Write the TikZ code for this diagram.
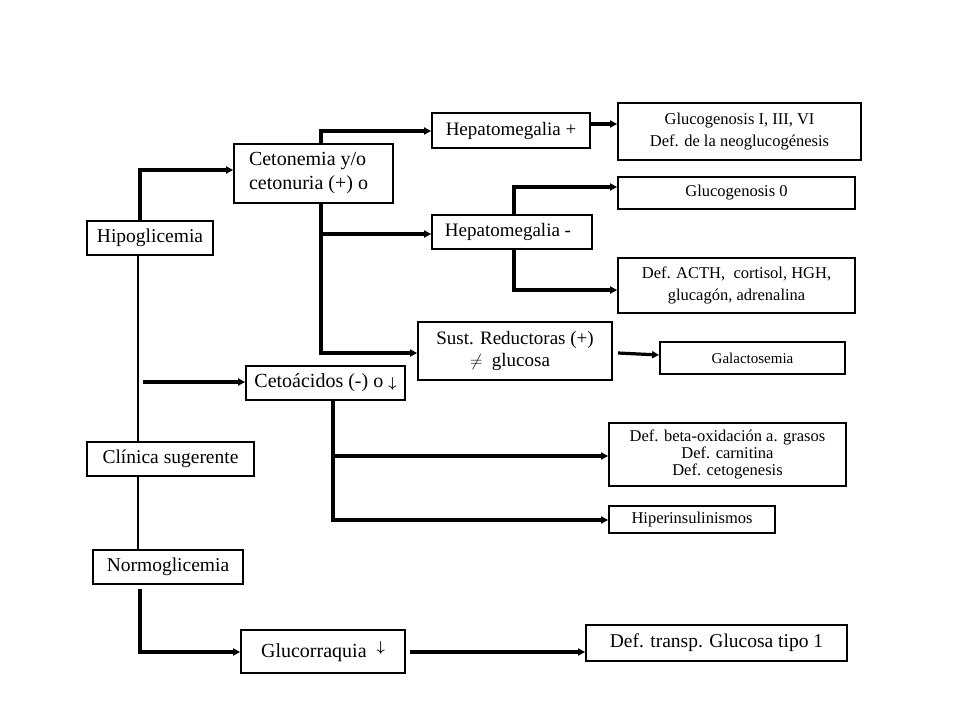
\documentclass[tikz,border=0pt]{standalone}
\usepackage{amsmath}
\usepackage{fontspec}
\setmainfont{Liberation Serif}
\usetikzlibrary{arrows.meta}
\begin{document}
\begin{tikzpicture}[x=1pt,y=-1pt,
		box/.style={draw, line width=1.8pt, inner sep=0pt, align=center},
		link/.style={line width=3.2pt, -{Triangle[length=7pt,width=7pt]}},
		thin/.style={line width=1.6pt}]
		\useasboundingbox (0,0) rectangle (960,720);
		
		% Boxes, left column
		\node[box, minimum width=126, minimum height=34, font=\fontsize{19.5}{22}\selectfont] (hipo) at (150,238) {Hipoglicemia};
		\node[box, minimum width=167, minimum height=34, font=\fontsize{19.5}{22}\selectfont] (clin) at (170.5,459) {Clínica sugerente};
		\node[box, minimum width=150, minimum height=34, font=\fontsize{19.5}{22}\selectfont] (normo) at (168,567) {Normoglicemia};
		
		% Boxes, middle column
		\node[box, minimum width=159, minimum height=59, align=left, font=\fontsize{20}{24}\selectfont] (ceto) at (313.5,173.5) {Cetonemia y/o\\cetonuria (+) o\hspace*{10pt}};
		\node[box, minimum width=159, minimum height=34, font=\fontsize{20}{22}\selectfont] (acid) at (325.5,383) {Cetoácidos (-) o {\Large$\boldsymbol\downarrow$}};
		\node[box, minimum width=164, minimum height=43, font=\fontsize{20}{22}\selectfont] (gluco) at (323,651.5) {\raisebox{-6pt}{Glucorraquia} \ {\Large$\boldsymbol\downarrow$}};
		\node[box, minimum width=158, minimum height=35, font=\fontsize{19}{22}\selectfont] (hepp) at (511,130.5) {Hepatomegalia +};
		\node[box, minimum width=160, minimum height=34, font=\fontsize{19}{22}\selectfont] (hepm) at (512,232) {Hepatomegalia -\hspace*{8pt}};
		\node[box, minimum width=194, minimum height=58, font=\fontsize{19}{24}\selectfont] (sust) at (515,351) {Sust. Reductoras (+)\\[-2pt]$\neq$\ \ glucosa\hspace*{10pt}};
		
		% Boxes, right column
		\node[box, minimum width=243, minimum height=57, font=\fontsize{16.5}{22}\selectfont] (gI) at (739.5,131.5) {Glucogenosis I, III, VI\\Def. de la neoglucogénesis};
		\node[box, minimum width=237, minimum height=32, font=\fontsize{16.5}{18}\selectfont] (g0) at (736.5,193) {Glucogenosis 0};
		\node[box, minimum width=237, minimum height=55, font=\fontsize{16.5}{22}\selectfont] (acth) at (736.5,285.5) {Def. ACTH,\ \ cortisol, HGH,\\glucagón, adrenalina};
		\node[box, minimum width=185, minimum height=32, font=\fontsize{15}{17}\selectfont] (gal) at (752.5,358) {Galactosemia};
		\node[box, minimum width=237, minimum height=63, font=\fontsize{16.5}{17}\selectfont] (beta) at (727.5,454.5) {Def. beta-oxidación a. grasos\\Def. carnitina\\Def. cetogenesis};
		\node[box, minimum width=166, minimum height=27, font=\fontsize{16.5}{18}\selectfont] (hiper) at (692,519.5) {Hiperinsulinismos};
		\node[box, minimum width=261, minimum height=36, font=\fontsize{19.5}{22}\selectfont] (transp) at (716.5,643) {Def. transp. Glucosa tipo 1};
		
		% Trunk
		\draw[thin] (hipo.south -| 138,0) -- (clin.north -| 138,0);
		\draw[thin] (clin.south -| 138,0) -- (normo.north -| 138,0);
		
		% Arrows
		\draw[link] (hipo.north -| 140,0) -- (140,170) -- (ceto.west |- 0,170);
		\draw[link] (143,382) -- (acid.west |- 0,382);
		\draw[link] (ceto.north -| 321,0) -- (321,131) -- (hepp.west |- 0,131);
		\draw[link] (ceto.south -| 321,0) -- (321,353) -- (sust.west |- 0,353);
		\draw[link] (321,234) -- (hepm.west |- 0,234);
		\draw[link] (hepp.east |- 0,124) -- (gI.west |- 0,124);
		\draw[link] (hepm.north -| 514,0) -- (514,187) -- (g0.west |- 0,187);
		\draw[link] (hepm.south -| 514,0) -- (514,290) -- (acth.west |- 0,290);
		\draw[link] (618,353) -- (gal.west |- 0,355);
		\draw[link] (acid.south -| 333,0) -- (333,520) -- (hiper.west |- 0,520);
		\draw[link] (333,456) -- (beta.west |- 0,456);
		\draw[link] (normo.south -| 140,0) ++(0,4) -- (140,652) -- (gluco.west |- 0,652);
		\draw[link] (410,652) -- (transp.west |- 0,652);
	\end{tikzpicture}
\end{document}
